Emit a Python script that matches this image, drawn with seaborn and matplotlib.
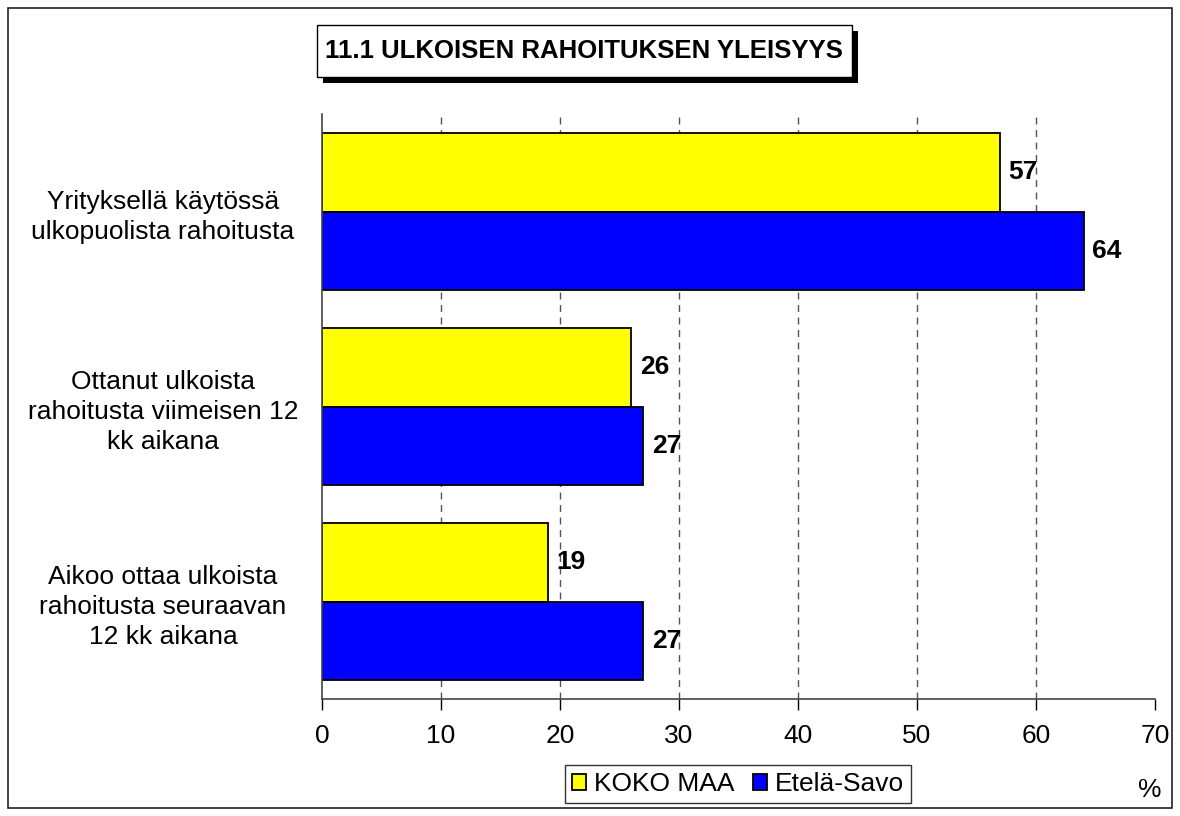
import pandas as pd
import matplotlib.pyplot as plt
import seaborn as sns
from matplotlib.patches import Rectangle

# Data
categories = ['Yrityksellä käytössä\nulkopuolista rahoitusta',
              'Ottanut ulkoista\nrahoitusta viimeisen 12\nkk aikana',
              'Aikoo ottaa ulkoista\nrahoitusta seuraavan\n12 kk aikana']
koko_maa = [57, 26, 19]
etela_savo = [64, 27, 27]
series_names = ['KOKO MAA', 'Etelä-Savo']
colors = ['#FFFF00', '#0000FF']
title = '11.1 ULKOISEN RAHOITUKSEN YLEISYYS'

df = pd.DataFrame({
    'Kategoria': categories * 2,
    'Arvo': koko_maa + etela_savo,
    'Sarja': [series_names[0]] * 3 + [series_names[1]] * 3,
})

sns.set_style('white')
plt.rcParams['font.family'] = ['Liberation Sans', 'DejaVu Sans']
plt.rcParams['text.color'] = 'black'
plt.rcParams['xtick.color'] = 'black'
plt.rcParams['ytick.color'] = 'black'

W, H = 1180, 816
fig = plt.figure(figsize=(W / 100, H / 100), dpi=100)
ax = fig.add_axes([322 / W, 1 - 699 / H, (1155 - 322) / W, 585 / H])

sns.barplot(data=df, x='Arvo', y='Kategoria', hue='Sarja', orient='h',
            palette=colors, width=0.805, edgecolor='black', linewidth=1.3,
            saturation=1, ax=ax)

ax.set_xlim(0, 70)
ax.set_ylim(2.5, -0.5)
ax.set_xticks(range(0, 71, 10))
ax.xaxis.grid(True, linestyle=(0, (5, 4)), color='#555555', linewidth=1)
ax.get_xgridlines()[-1].set_visible(False)
ax.get_xgridlines()[0].set_visible(False)
ax.set_axisbelow(True)
ax.set_xlabel('')
ax.set_ylabel('')
for s in ['top', 'right']:
    ax.spines[s].set_visible(False)
for s in ['left', 'bottom']:
    ax.spines[s].set_color('#444444')
    ax.spines[s].set_linewidth(1.2)
ax.tick_params(axis='x', length=8, width=1, labelsize=19, pad=10, direction='out', bottom=True)
ax.tick_params(axis='y', length=0, labelsize=19)
for lbl in ax.get_yticklabels():
    lbl.set_horizontalalignment('center')
    lbl.set_linespacing(1.3)
    lbl.set_x(-0.185)

for cont in ax.containers:
    ax.bar_label(cont, fmt='%d', padding=6, fontsize=19, fontweight='bold')

# legend
handles, labels = ax.get_legend_handles_labels()
ax.get_legend().remove()
leg = fig.legend(handles, labels, loc='center', bbox_to_anchor=(738 / W, 1 - 784 / H),
                 ncol=2, frameon=True, fancybox=False, edgecolor='black', fontsize=19,
                 handlelength=0.55, handleheight=0.55, handletextpad=0.3, columnspacing=0.7,
                 borderpad=0.25)
leg.get_frame().set_linewidth(1)
fig.text(1150 / W, 1 - 790 / H, '%', fontsize=19, ha='center', va='center')

# title box with shadow
fig.patches.append(Rectangle((323 / W, 1 - 83 / H), 535 / W, 52 / H, transform=fig.transFigure,
                             facecolor='black', edgecolor='none', zorder=3))
fig.patches.append(Rectangle((317 / W, 1 - 77 / H), 535 / W, 52 / H, transform=fig.transFigure,
                             facecolor='white', edgecolor='black', linewidth=1, zorder=4))
fig.text(584 / W, 1 - 51 / H, title, fontsize=18.5, fontweight='bold',
         ha='center', va='center', zorder=5)

# outer border
fig.patches.append(Rectangle((8 / W, 8 / H), 1164 / W, 800 / H, transform=fig.transFigure,
                             fill=False, edgecolor='#222222', linewidth=1.2))

fig.savefig('out.png', dpi=100)
